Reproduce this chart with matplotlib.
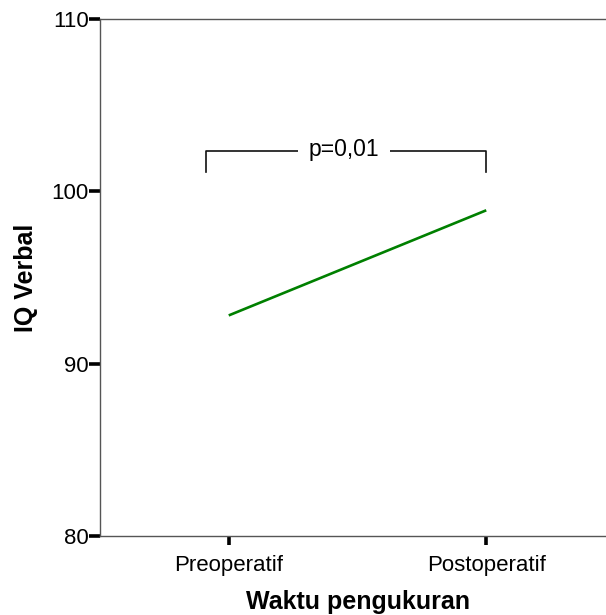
import matplotlib
matplotlib.use("Agg")
import matplotlib.pyplot as plt

# Mean verbal IQ before and after surgery
categories = ["Preoperatif", "Postoperatif"]
iq_verbal = [92.8, 98.9]
y_ticks = [80, 90, 100, 110]
p_label = "p=0,01"

plt.rcParams['font.family'] = ['Liberation Sans', 'DejaVu Sans']

fig = plt.figure(figsize=(6.06, 6.15), dpi=100)
ax = fig.add_axes([100 / 606, 79 / 615, 515 / 606, 517 / 615])

x = list(range(len(categories)))
ax.plot(x, iq_verbal, color="#008000", linewidth=1.9, solid_capstyle="butt")

# significance bracket
y_top, y_bot = 102.32, 101.15
ax.plot([-0.09, -0.09, 1.0, 1.0], [y_bot, y_top, y_top, y_bot],
        color="#111111", linewidth=1.2)
ax.text(0.448, 102.45, p_label, ha="center", va="center", fontsize=16.5,
        bbox=dict(facecolor="white", edgecolor="none", pad=8))

ax.set_xlim(-0.5, 1.5)
ax.set_ylim(80, 110)
ax.set_xticks(x)
ax.set_xticklabels(categories, fontsize=16)
ax.set_yticks(y_ticks)
ax.set_yticklabels([str(t) for t in y_ticks], fontsize=16)

for side in ["left", "bottom", "top"]:
    ax.spines[side].set_color("#555555")
    ax.spines[side].set_linewidth(1.0)
ax.spines["right"].set_visible(False)

ax.tick_params(axis="y", length=8, width=2.6, color="black", pad=0)
ax.tick_params(axis="x", length=6.5, width=2.6, color="black", pad=7)

ax.set_xlabel("Waktu pengukuran", fontsize=18, fontweight="bold", labelpad=10)
ax.set_ylabel("IQ Verbal", fontsize=18, fontweight="bold", labelpad=10)

fig.savefig("out.png", dpi=100)
